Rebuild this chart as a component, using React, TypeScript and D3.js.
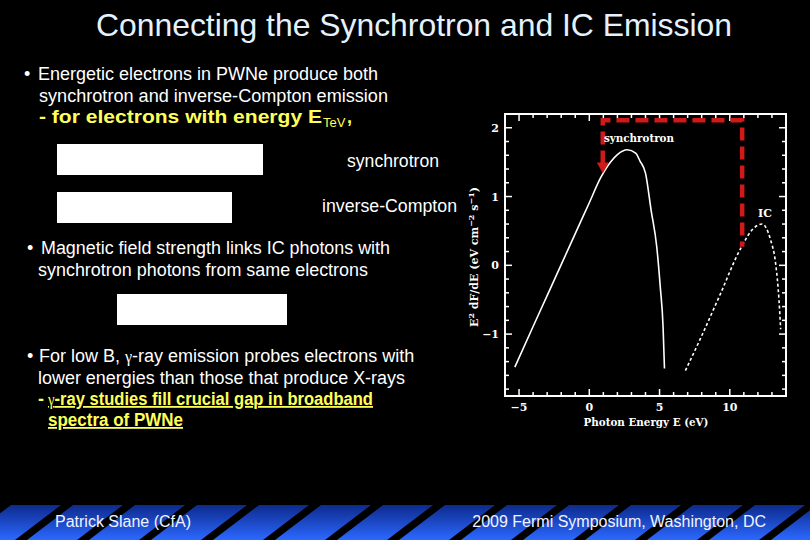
import React from 'react';
import * as d3 from 'd3';

// ---- data ----
const synchE = [-5.3, -4, -3, -2, -1, 0, 0.8, 1.5, 2.0, 2.7, 3.3, 3.6, 4.0, 4.4, 4.8, 5.05, 5.25, 5.35];
const synchF = [-1.48, -0.89, -0.44, 0.01, 0.46, 0.91, 1.27, 1.5, 1.61, 1.68, 1.63, 1.52, 1.34, 0.8, 0.27, -0.31, -0.89, -1.5];
const icE = [6.84, 7.9, 9.3, 10.76, 11.7, 12.3, 12.9, 13.26, 13.5, 13.62];
const icF = [-1.53, -1.07, -0.43, 0.24, 0.54, 0.6, 0.37, 0.03, -0.5, -0.93];
const annoE = [0.96, 0.96, 10.88, 10.88];
const annoF = [1.48, 2.11, 2.11, 0.27];
const arrowTip = 1.34;
const xMajor = [-5, 0, 5, 10];
const xMajorLabels = ['\u22125', '0', '5', '10'];
const yMajor = [-1, 0, 1, 2];
const yMajorLabels = ['\u22121', '0', '1', '2'];
const xDomain = [-6, 14];
const yDomain = [-1.9, 2.2];

const title = 'Connecting the Synchrotron and IC Emission';
const footerLeft = 'Patrick Slane (CfA)';
const footerRight = '2009 Fermi Symposium, Washington, DC';

export default function App() {
  const W = 810, H = 540;
  const x = d3.scaleLinear().domain(xDomain).range([505, 786]);
  const y = d3.scaleLinear().domain(yDomain).range([396, 114]);
  const line = d3.line<[number, number]>().x(d => x(d[0])).y(d => y(d[1])).curve(d3.curveMonotoneX);
  const synchPath = line(synchE.map((e, i) => [e, synchF[i]] as [number, number])) || '';
  const icPath = line(icE.map((e, i) => [e, icF[i]] as [number, number])) || '';
  const annoPath = d3.line<[number, number]>().x(d => x(d[0])).y(d => y(d[1]))(annoE.map((e, i) => [e, annoF[i]] as [number, number])) || '';

  const xMinor = d3.range(-5, 14, 1).filter(v => !xMajor.includes(v));
  const yMinor = d3.range(-18, 22, 2).map(v => v / 10).filter(v => !yMajor.includes(v));

  const x0 = x.range()[0], x1 = x.range()[1];
  const yb = y.range()[0], yt = y.range()[1];
  const sans = '"Liberation Sans", Arial, sans-serif';
  const plotFont = '"DejaVu Serif", serif';
  const yellow = '#ffff5a';
  const red = '#d01a1a';

  const stripes = d3.range(-2, 15).map(k => {
    const bx = 15 + k * 62;
    return `M${bx},540 L${bx + 12},540 L${bx + 58},505 L${bx + 46},505 Z`;
  });

  const ax = x(annoE[0]);
  const arrowPts = `${ax - 6},${y(annoF[0]) - 1} ${ax + 6},${y(annoF[0]) - 1} ${ax},${y(arrowTip)}`;

  return (
    <svg width={W} height={H} style={{ position: 'absolute', left: 0, top: 0, display: 'block' }}>
      <defs>
        <linearGradient id="band" x1="0" y1="0" x2="0" y2="1">
          <stop offset="0" stopColor="#0d2a8c" />
          <stop offset="1" stopColor="#2c68ff" />
        </linearGradient>
      </defs>
      <rect width={W} height={H} fill="#000" />

      {/* Title */}
      <text x={414} y={36} fill="#e4f2ff" fontFamily={sans} fontSize={32} textAnchor="middle" textLength={636} lengthAdjust="spacingAndGlyphs">{title}</text>

      {/* Bullet 1 */}
      <g fontFamily={sans} fontSize={18} fill="#fff">
        <text x={24} y={80}>•</text>
        <text x={38} y={80} textLength={340} lengthAdjust="spacingAndGlyphs">Energetic electrons in PWNe produce both</text>
        <text x={39} y={102} textLength={349} lengthAdjust="spacingAndGlyphs">synchrotron and inverse-Compton emission</text>
        <text x={39} y={123} fill={yellow} fontWeight="bold" fontSize={19} textLength={283} lengthAdjust="spacingAndGlyphs">- for electrons with energy E</text>
        <text x={323} y={127} fill={yellow} fontSize={13}>TeV</text>
        <text x={347} y={123} fill={yellow} fontWeight="bold">,</text>

        <rect x={57} y={144} width={206} height={31} fill="#fff" />
        <rect x={57} y={192} width={175} height={31} fill="#fff" />
        <text x={347} y={167} textLength={92} lengthAdjust="spacingAndGlyphs">synchrotron</text>
        <text x={322} y={212} textLength={135} lengthAdjust="spacingAndGlyphs">inverse-Compton</text>

        <text x={27} y={254}>•</text>
        <text x={41} y={254} textLength={349} lengthAdjust="spacingAndGlyphs">Magnetic field strength links IC photons with</text>
        <text x={38} y={276} textLength={330} lengthAdjust="spacingAndGlyphs">synchrotron photons from same electrons</text>
        <rect x={117} y={294} width={170} height={31} fill="#fff" />

        <text x={27} y={362}>•</text>
        <text x={39} y={362}>For low B, <tspan fontFamily='"Liberation Serif", serif' fontSize={16}>γ</tspan>-ray emission probes electrons with</text>
        <text x={38} y={384} textLength={367} lengthAdjust="spacingAndGlyphs">lower energies than those that produce X-rays</text>
        <text x={38} y={405} fill={yellow} fontWeight="bold">- </text>
        <text x={48} y={405} fill={yellow} fontWeight="bold" textDecoration="underline" textLength={325} lengthAdjust="spacingAndGlyphs"><tspan fontFamily='"Liberation Serif", serif' fontWeight="normal" fontSize={16}>γ</tspan>-ray studies fill crucial gap in broadband</text>
        <text x={48} y={426} fill={yellow} fontWeight="bold" textDecoration="underline" textLength={135} lengthAdjust="spacingAndGlyphs">spectra of PWNe</text>
      </g>

      {/* Plot */}
      <g>
        <rect x={x0} y={yt} width={x1 - x0} height={yb - yt} fill="none" stroke="#fff" strokeWidth={2} />
        {xMajor.map(v => (
          <g key={'xM' + v}>
            <line x1={x(v)} x2={x(v)} y1={yb} y2={yb - 7} stroke="#fff" strokeWidth={1.5} />
            <line x1={x(v)} x2={x(v)} y1={yt} y2={yt + 7} stroke="#fff" strokeWidth={1.5} />
          </g>
        ))}
        {xMinor.map(v => (
          <g key={'xm' + v}>
            <line x1={x(v)} x2={x(v)} y1={yb} y2={yb - 4} stroke="#fff" strokeWidth={1.5} />
            <line x1={x(v)} x2={x(v)} y1={yt} y2={yt + 4} stroke="#fff" strokeWidth={1.5} />
          </g>
        ))}
        {yMajor.map(v => (
          <g key={'yM' + v}>
            <line x1={x0} x2={x0 + 7} y1={y(v)} y2={y(v)} stroke="#fff" strokeWidth={1.5} />
            <line x1={x1} x2={x1 - 7} y1={y(v)} y2={y(v)} stroke="#fff" strokeWidth={1.5} />
          </g>
        ))}
        {yMinor.map(v => (
          <g key={'ym' + v}>
            <line x1={x0} x2={x0 + 4} y1={y(v)} y2={y(v)} stroke="#fff" strokeWidth={1.5} />
            <line x1={x1} x2={x1 - 4} y1={y(v)} y2={y(v)} stroke="#fff" strokeWidth={1.5} />
          </g>
        ))}
        <g fontFamily={plotFont} fontWeight="bold" fontSize={11} fill="#fff">
          {xMajor.map((v, i) => (
            <text key={'xl' + v} x={x(v)} y={411} textAnchor="middle">{xMajorLabels[i]}</text>
          ))}
          {yMajor.map((v, i) => (
            <text key={'yl' + v} x={499} y={y(v) + 4} textAnchor="end">{yMajorLabels[i]}</text>
          ))}
          <text x={646} y={426} fontSize={11} textAnchor="middle" textLength={125} lengthAdjust="spacingAndGlyphs">Photon Energy E (eV)</text>
          <text transform={`translate(478,257) rotate(-90)`} textAnchor="middle" fontSize={11}>
            E<tspan dy={-4} fontSize={8}>2</tspan><tspan dy={4}> dF/dE (eV cm</tspan><tspan dy={-4} fontSize={8}>{'\u22122'}</tspan><tspan dy={4}> s</tspan><tspan dy={-4} fontSize={8}>{'\u22121'}</tspan><tspan dy={4}>)</tspan>
          </text>
        </g>

        <path d={synchPath} fill="none" stroke="#fff" strokeWidth={1.6} />
        <path d={icPath} fill="none" stroke="#fff" strokeWidth={1.6} strokeDasharray="3 2.5" />

        <path d={annoPath} fill="none" stroke={red} strokeWidth={4.5} strokeDasharray="13 6" />
        <polygon points={arrowPts} fill={red} />
        <text x={604} y={142} fontFamily={plotFont} fontWeight="bold" fontSize={11} fill="#fff" textLength={70} lengthAdjust="spacingAndGlyphs">synchrotron</text>
        <text x={758} y={217} fontFamily={plotFont} fontWeight="bold" fontSize={11} fill="#fff">IC</text>
      </g>

      {/* Footer */}
      <rect x={0} y={505} width={W} height={35} fill="url(#band)" />
      {stripes.map((d, i) => <path key={'s' + i} d={d} fill="#000" />)}
      <text x={55} y={527} fontFamily={sans} fontSize={16} fill="#f0f4ff" textLength={136} lengthAdjust="spacingAndGlyphs">{footerLeft}</text>
      <text x={766} y={527} fontFamily={sans} fontSize={16} fill="#f0f4ff" textAnchor="end">{footerRight}</text>
    </svg>
  );
}
